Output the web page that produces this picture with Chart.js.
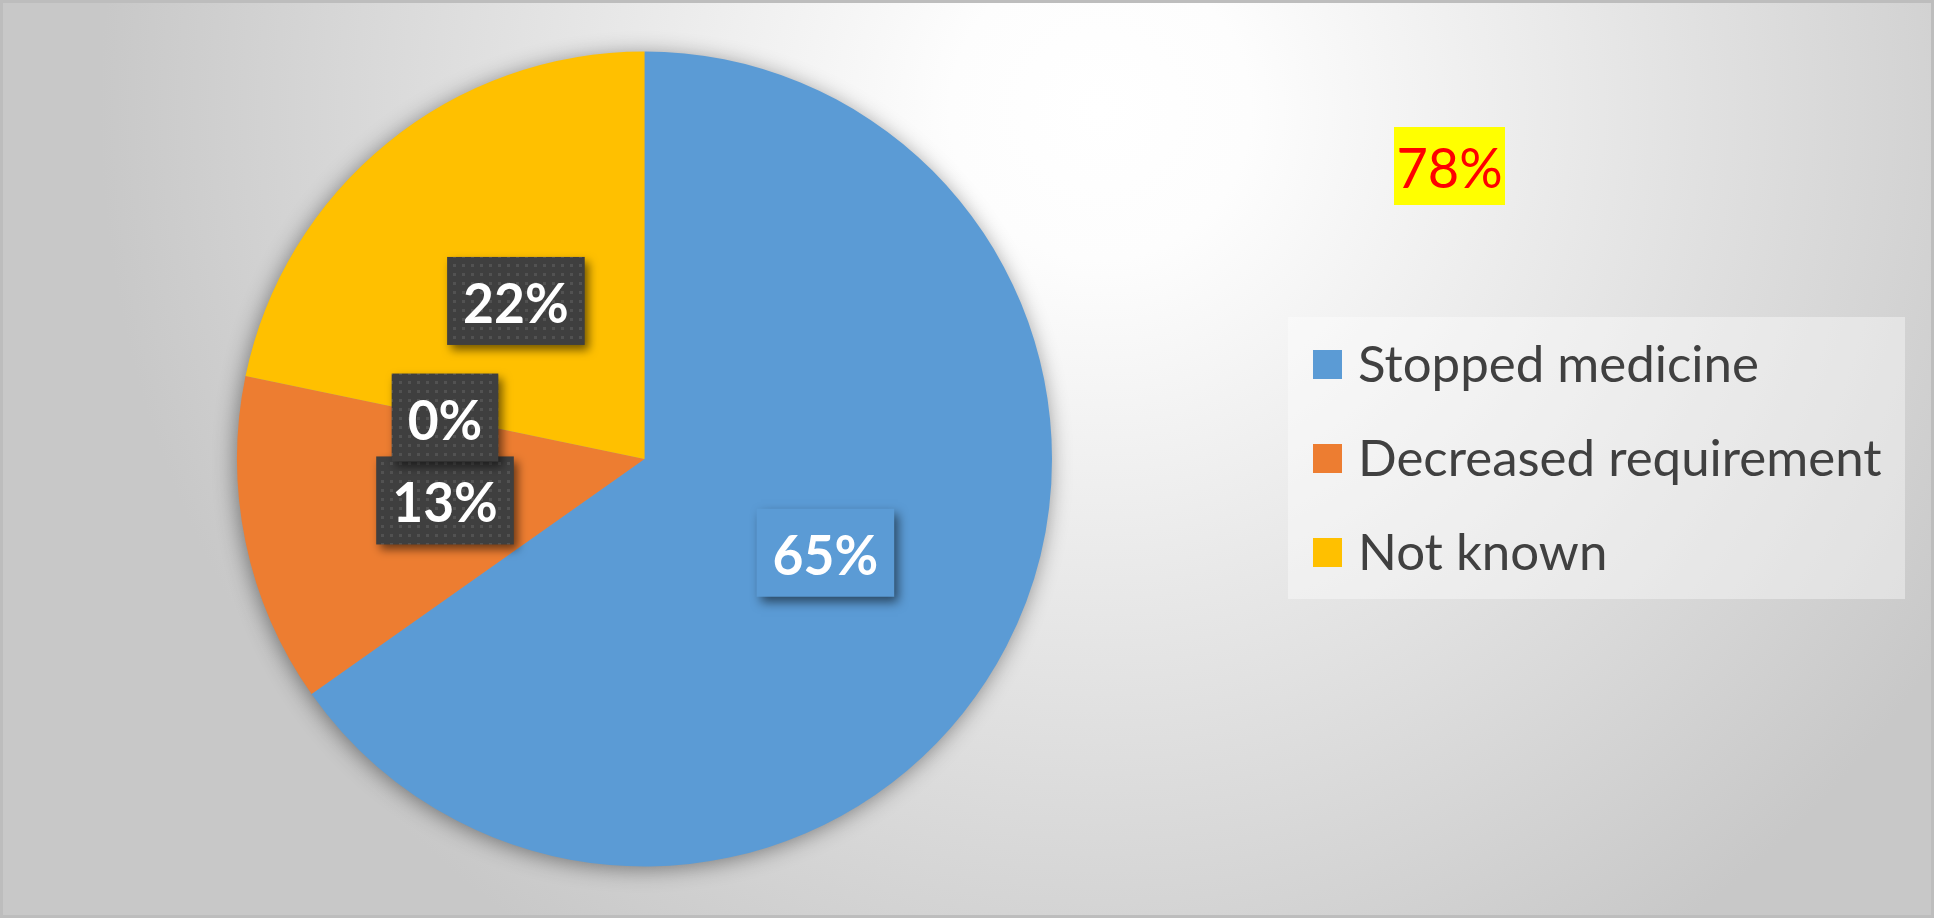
<!DOCTYPE html>
<html>
<head>
<meta charset="utf-8">
<script src="https://cdn.jsdelivr.net/npm/chart.js@4.4.1/dist/chart.umd.min.js"></script>
<style>
  html, body { margin: 0; padding: 0; overflow: hidden; background: #fff; }
</style>
</head>
<body>
<canvas id="outcomechart" width="1934" height="918"></canvas>
<script>
// data
const categories = ['Stopped medicine', 'Decreased requirement', '', 'Not known'];
const patients = [15, 3, 0, 5];
const sliceColors = ['#5B9BD5', '#ED7D31', '#A5A5A5', '#FFC000'];
const noteParts = [0, 1]; // slices summed in the yellow note

const total = patients.reduce((a, b) => a + b, 0);
const pct = v => Math.round(v / total * 100) + '%';

// dotted dark fill used by the excel-style labels
function dotPattern(ctx) {
  const c = document.createElement('canvas');
  c.width = 9; c.height = 9;
  const p = c.getContext('2d');
  p.fillStyle = '#3f3f3f';
  p.fillRect(0, 0, 9, 9);
  p.fillStyle = '#525252';
  p.fillRect(3, 3, 3, 3);
  return ctx.createPattern(c, 'repeat');
}

// text squeezed a bit, the original face is narrower than what we have
function squeezed(ctx, txt, x, y, squeeze) {
  const w = ctx.measureText(txt).width;
  ctx.fillText(txt, x, y, w * squeeze);
  return w * squeeze;
}

const excelLook = {
  id: 'excelLook',
  beforeDraw(chart) {
    const { ctx, width, height } = chart;
    ctx.save();
    const g = ctx.createRadialGradient(1100, 110, 0, 1100, 110, 1000);
    g.addColorStop(0, '#ffffff');
    g.addColorStop(0.15, '#fdfdfd');
    g.addColorStop(1, '#c8c8c8');
    ctx.fillStyle = g;
    ctx.fillRect(0, 0, width, height);
    ctx.strokeStyle = '#bdbdbd';
    ctx.lineWidth = 3;
    ctx.strokeRect(1.5, 1.5, width - 3, height - 3);
    // legend panel
    ctx.fillStyle = 'rgba(255,255,255,0.4)';
    ctx.fillRect(1288, 317, 617, 282);
    ctx.restore();
  },
  beforeDatasetsDraw(chart) {
    const arc = chart.getDatasetMeta(0).data[0];
    if (!arc) return;
    const { ctx } = chart;
    ctx.save();
    ctx.shadowColor = 'rgba(0,0,0,0.45)';
    ctx.shadowBlur = 22;
    ctx.shadowOffsetX = -2;
    ctx.shadowOffsetY = 3;
    ctx.fillStyle = '#999';
    ctx.beginPath();
    ctx.arc(arc.x, arc.y, arc.outerRadius - 1, 0, Math.PI * 2);
    ctx.fill();
    ctx.restore();
  },
  afterDatasetsDraw(chart) {
    const { ctx } = chart;
    const meta = chart.getDatasetMeta(0);
    const dots = dotPattern(ctx);
    const vals = chart.data.datasets[0].data;
    const cols = chart.data.datasets[0].backgroundColor;

    // data labels
    meta.data.forEach((arc, i) => {
      const pt = arc.getCenterPoint();
      const txt = pct(vals[i]);
      ctx.save();
      ctx.font = 'bold 55px Lato, "Open Sans", sans-serif';
      const tw = ctx.measureText(txt).width * 0.97;
      const bw = tw + 32, bh = 88;
      ctx.shadowColor = 'rgba(0,0,0,0.55)';
      ctx.shadowBlur = 10;
      ctx.shadowOffsetX = 4;
      ctx.shadowOffsetY = 5;
      ctx.fillStyle = i === 0 ? cols[0] : dots;
      ctx.fillRect(pt.x - bw / 2, pt.y - bh / 2, bw, bh);
      ctx.restore();
      ctx.save();
      ctx.font = 'bold 55px Lato, "Open Sans", sans-serif';
      ctx.fillStyle = '#ffffff';
      ctx.textAlign = 'center';
      ctx.textBaseline = 'alphabetic';
      squeezed(ctx, txt, pt.x, pt.y + 22, 0.97);
      ctx.restore();
    });

    // legend
    ctx.save();
    ctx.font = '51px Lato, "Open Sans", sans-serif';
    ctx.textBaseline = 'alphabetic';
    let k = 0;
    chart.data.labels.forEach((lab, i) => {
      if (!lab) return;
      const top = 350 + k * 94;
      ctx.fillStyle = cols[i];
      ctx.fillRect(1313, top, 29, 29);
      ctx.fillStyle = '#404040';
      ctx.fillText(lab, 1358, top + 32);
      k++;
    });
    ctx.restore();

    // yellow note
    const part = noteParts.reduce((s, i) => s + vals[i], 0);
    ctx.save();
    ctx.fillStyle = '#FFFF00';
    ctx.fillRect(1394, 127, 111, 78);
    ctx.font = '57px Lato, "Open Sans", sans-serif';
    ctx.fillStyle = '#FF0000';
    ctx.textAlign = 'center';
    squeezed(ctx, pct(part), 1449.5, 188, 0.95);
    ctx.restore();
  }
};

const outcomedata = {
  labels: categories,
  datasets: [{
    data: patients,
    backgroundColor: sliceColors,
    borderWidth: 0,
    hoverOffset: 0
  }]
};

// config
const outcomeconfig = {
  type: 'pie',
  data: outcomedata,
  options: {
    responsive: false,
    animation: false,
    devicePixelRatio: 1,
    events: [],
    layout: { padding: { left: 237, right: 882, top: 51, bottom: 51 } },
    plugins: {
      legend: { display: false },
      tooltip: { enabled: false }
    }
  },
  plugins: [excelLook]
};

// render init block
const outcomechart = new Chart(document.getElementById('outcomechart'), outcomeconfig);
</script>
</body>
</html>
